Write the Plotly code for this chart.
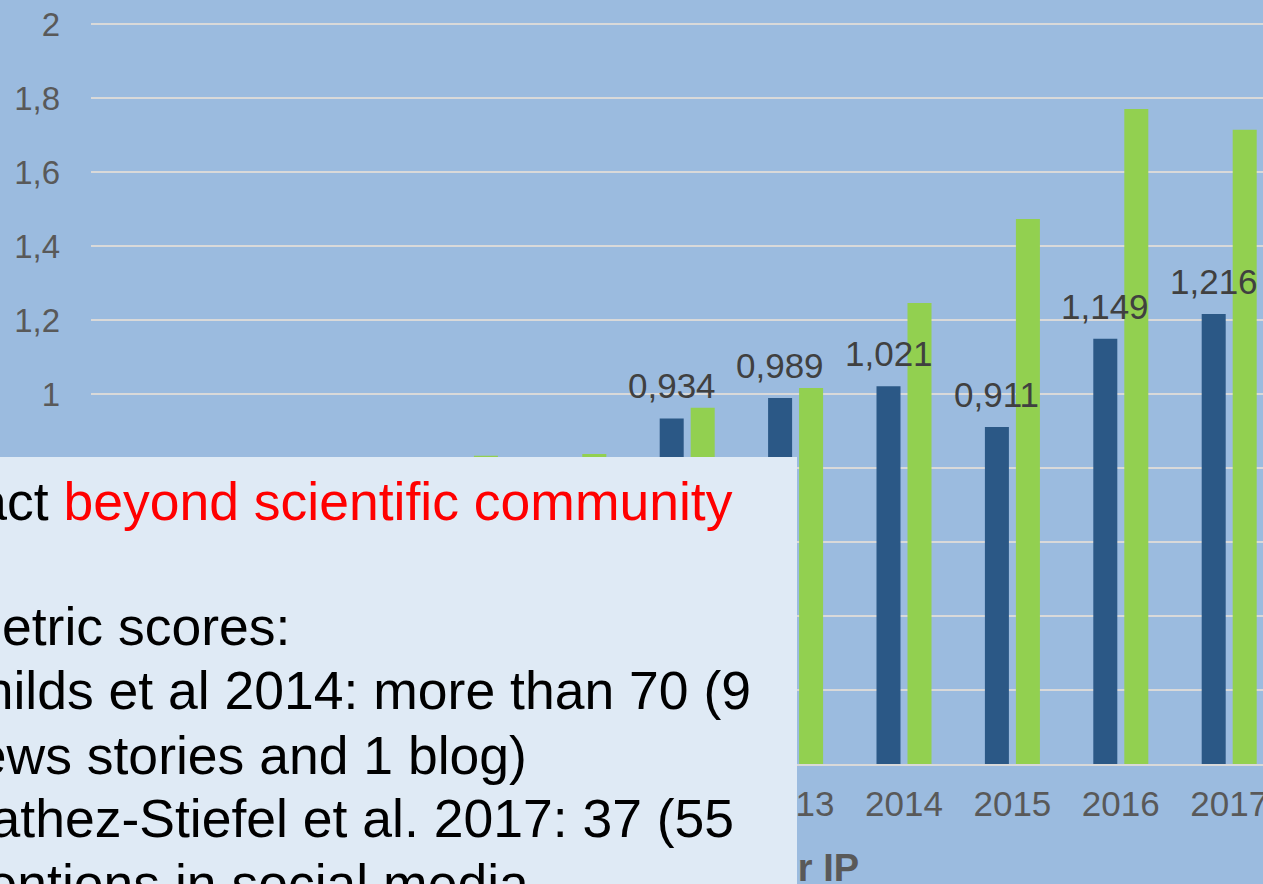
import plotly.graph_objects as go

# ---------------- data ----------------
years = ["2007", "2008", "2009", "2010", "2011", "2012", "2013", "2014", "2015", "2016", "2017"]
series_blue = [0.41, 0.47, 0.55, 0.62, 0.66, 0.934, 0.989, 1.021, 0.911, 1.149, 1.216]
series_green = [0.58, 0.66, 0.74, 0.833, 0.838, 0.963, 1.016, 1.246, 1.473, 1.770, 1.714]
y_tick_vals = [0, 0.2, 0.4, 0.6, 0.8, 1, 1.2, 1.4, 1.6, 1.8, 2]
y_tick_text = ["0", "0,2", "0,4", "0,6", "0,8", "1", "1,2", "1,4", "1,6", "1,8", "2"]
x_title = "Impact factor IP"
box_lines = [
    "Impact <span style='color:#FF0000'>beyond scientific community</span>",
    "Altmetric scores:",
    "Childs et al 2014: more than 70 (9",
    "news stories and 1 blog)",
    "Mathez-Stiefel et al. 2017: 37 (55",
    "mentions in social media",
]

# ---------------- layout geometry ----------------
W, H = 1263, 884
ML, MR, MT, MB = 91, 0, 0, 120
PW, PH = W - ML - MR, H - MT - MB
CAT_PX = 108.4
PX_PER_UNIT = 370.0

def px_x(px):
    return (px - ML) / PW

def px_y(py):
    return (MT + PH - py) / PH

BG = "#9BBBDF"
BOX = "#DFEAF5"
BLUE = "#2B5886"
GREEN = "#92D050"
GRID = "#D9D9D9"
TICK = "#595959"
FONT = "Liberation Sans, Arial, sans-serif"

fig = go.Figure()
fig.add_trace(go.Bar(x=years, y=series_blue, marker=dict(color=BLUE, line=dict(width=0)), name="IP"))
fig.add_trace(go.Bar(x=years, y=series_green, marker=dict(color=GREEN, line=dict(width=0)), name="ref"))

annotations = []
# data labels above the dark-blue bars
for i, v in enumerate(series_blue):
    annotations.append(dict(
        x=i, y=v, xref="x", yref="y", xshift=-15.5, yshift=12,
        text=f"{v:.3f}".replace(".", ","), showarrow=False,
        xanchor="center", yanchor="bottom", borderpad=0,
        font=dict(family=FONT, size=35, color="#404040"),
    ))
# x-axis title (partly hidden behind the text box)
annotations.append(dict(
    x=px_x(860), y=px_y(868), xref="paper", yref="paper",
    text=f"<b>{x_title}</b>", showarrow=False, xanchor="right", yanchor="middle",
    borderpad=0, font=dict(family=FONT, size=38, color=TICK),
))
# text box background
annotations.append(dict(
    x=px_x(797), y=px_y(457), xref="paper", yref="paper",
    text=" ", showarrow=False, xanchor="right", yanchor="top",
    width=1000, height=520, bgcolor=BOX, borderpad=0, borderwidth=0,
    font=dict(family=FONT, size=10),
))
# text box lines
line_right = [734, 291, 752, 528, 735, 530]
line_center = [501, 626, 690.5, 755, 819, 883]
for t, rx, cy in zip(box_lines, line_right, line_center):
    annotations.append(dict(
        x=px_x(rx), y=px_y(cy), xref="paper", yref="paper",
        text=t, showarrow=False, xanchor="right", yanchor="middle", borderpad=0,
        font=dict(family=FONT, size=53.5, color="#000000"),
    ))

fig.update_layout(
    width=W, height=H,
    margin=dict(l=ML, r=MR, t=MT, b=MB, pad=0, autoexpand=False),
    paper_bgcolor=BG, plot_bgcolor=BG,
    barmode="group", bargap=1 - 62 / CAT_PX, bargroupgap=7 / 31,
    showlegend=False,
    font=dict(family=FONT, color=TICK),
    annotations=annotations,
    xaxis=dict(
        type="category", range=[-0.5, -0.5 + PW / CAT_PX],
        automargin=False,
        showgrid=False, zeroline=False,
        showline=True, linecolor=GRID, linewidth=2,
        ticks="", tickfont=dict(family=FONT, size=35, color=TICK),
        ticklabelstandoff=8,
    ),
    yaxis=dict(
        range=[0, PH / PX_PER_UNIT],
        automargin=False,
        tickvals=y_tick_vals, ticktext=y_tick_text,
        showgrid=True, gridcolor=GRID, gridwidth=2,
        zeroline=False, showline=False, ticks="",
        tickfont=dict(family=FONT, size=33, color=TICK),
        ticklabelstandoff=30,
    ),
)

fig.write_html("out.html", config={"displayModeBar": False},
               post_script="document.body.style.margin='0';")
